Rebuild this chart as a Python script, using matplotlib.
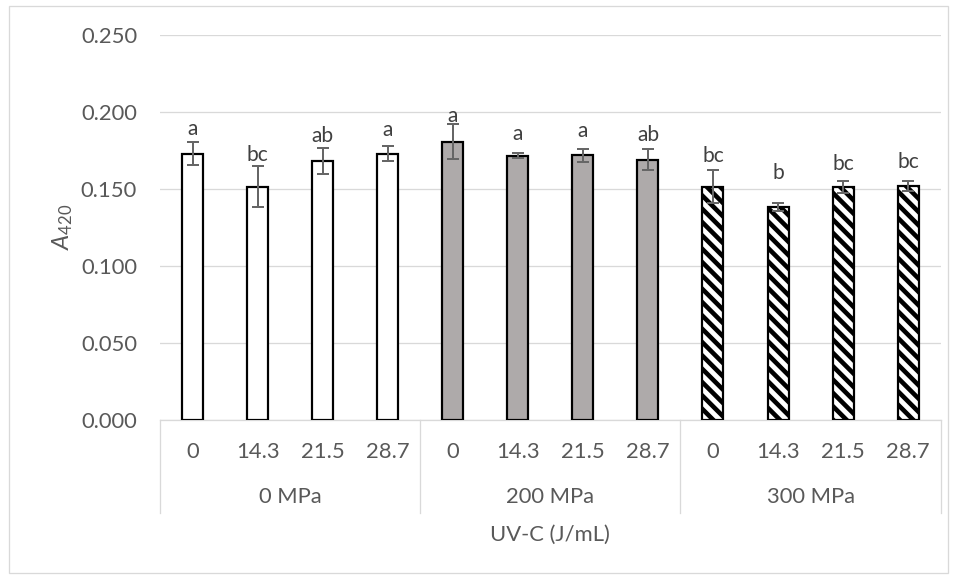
import numpy as np
import matplotlib
matplotlib.use("Agg")
import matplotlib.pyplot as plt
from matplotlib.patches import Rectangle
from matplotlib.lines import Line2D

# ---------------- data ----------------
uvc_doses = ["0", "14.3", "21.5", "28.7"]
pressures = ["0 MPa", "200 MPa", "300 MPa"]
a420_0mpa = [0.1727, 0.1513, 0.1680, 0.1729]
a420_200mpa = [0.1807, 0.1716, 0.1719, 0.1690]
a420_300mpa = [0.1515, 0.1383, 0.1511, 0.1517]
err_0mpa = [0.0075, 0.0132, 0.0084, 0.0051]
err_200mpa = [0.0115, 0.0016, 0.0042, 0.0068]
err_300mpa = [0.0108, 0.0028, 0.0039, 0.0031]
letters_0mpa = ["a", "bc", "ab", "a"]
letters_200mpa = ["a", "a", "a", "ab"]
letters_300mpa = ["bc", "b", "bc", "bc"]
y_ticks = [0.0, 0.05, 0.10, 0.15, 0.20, 0.25]

DPI = 160
W, H = 957, 579
def pt(px):
    return px * 72.0 / DPI

plt.rcParams['font.family'] = ['Lato', 'DejaVu Sans']
plt.rcParams['mathtext.fontset'] = 'custom'
plt.rcParams['mathtext.rm'] = 'Lato'
plt.rcParams['mathtext.it'] = 'Lato:italic'
plt.rcParams['hatch.linewidth'] = pt(4.6)

fig = plt.figure(figsize=(W / DPI, H / DPI), dpi=DPI)
# outer chart border
fig.patches.append(Rectangle((9 / W, 1 - 573 / H), (948 - 9) / W, (573 - 6) / H,
                             transform=fig.transFigure, fill=False,
                             edgecolor='#D9D9D9', linewidth=pt(1.3)))

ax_left, ax_right, ax_top, ax_bot = 160, 940.7, 34.7, 420
ax = fig.add_axes([ax_left / W, 1 - ax_bot / H, (ax_right - ax_left) / W, (ax_bot - ax_top) / H])
ax_h = ax_bot - ax_top

series = [
    (a420_0mpa, err_0mpa, letters_0mpa, dict(color='white', hatch=None)),
    (a420_200mpa, err_200mpa, letters_200mpa, dict(color='#AEAAAA', hatch=None)),
    (a420_300mpa, err_300mpa, letters_300mpa, dict(color='white', hatch='\\\\\\\\')),
]
# gap (px) between error-bar top and letter baseline, per group
label_gaps = [[7, 5, 6, 10], [2, 13, 12, 8], [8, 24, 11, 13]]

bw = 21 / 65.06
for g, (vals, errs, lets, sty) in enumerate(series):
    x = np.arange(len(vals)) + g * len(uvc_doses)
    ax.bar(x, vals, width=bw, color=sty['color'], edgecolor='black',
           linewidth=pt(2.2), hatch=sty['hatch'], zorder=3)
    ax.errorbar(x, vals, yerr=errs, fmt='none', ecolor='#666666',
                elinewidth=pt(2), capsize=pt(6), capthick=pt(2), zorder=4)
    for xi, v, e, l, gp in zip(x, vals, errs, lets, label_gaps[g]):
        ax.annotate(l, (xi, v + e), xytext=(0, pt(gp)), textcoords='offset points',
                    ha='center', va='baseline', fontsize=pt(21), color='#404040', zorder=5)

n = len(uvc_doses) * len(pressures)
ax.set_xlim(-0.5, n - 0.5)
ax.set_ylim(0, 0.25)
ax.set_yticks(y_ticks)
ax.set_yticklabels([f"{v:.3f}" for v in y_ticks])
ax.tick_params(axis='y', length=0, pad=pt(23), labelsize=pt(22), labelcolor='#595959')
ax.set_xticks([])
ax.grid(axis='y', color='#D9D9D9', linewidth=pt(1.3), zorder=0)
ax.set_axisbelow(True)
for s in ['top', 'right', 'left']:
    ax.spines[s].set_visible(False)
ax.spines['bottom'].set_color('#D9D9D9')
ax.spines['bottom'].set_linewidth(pt(1.3))

trans = ax.get_xaxis_transform()
# category labels
for g, p in enumerate(pressures):
    for i, d in enumerate(uvc_doses):
        ax.text(g * len(uvc_doses) + i, -32 / ax_h, d, transform=trans, ha='center', va='center',
                fontsize=pt(22), color='#595959')
    ax.text(g * len(uvc_doses) + (len(uvc_doses) - 1) / 2, -77 / ax_h, p, transform=trans,
            ha='center', va='center', fontsize=pt(22), color='#595959')
for b in range(len(pressures) + 1):
    xb = b * len(uvc_doses) - 0.5
    ax.add_line(Line2D([xb, xb], [0, -92.5 / ax_h], transform=trans, color='#D9D9D9',
                       linewidth=pt(1.3), clip_on=False))

ax.text((n - 1) / 2, -115 / ax_h, "UV-C (J/mL)", transform=trans, ha='center', va='center',
        fontsize=pt(22), color='#595959')

fig.text(63 / W, 1 - 226.5 / H, r'$\mathit{A}_{\mathregular{420}}$',
         rotation=90, ha='center', va='center', fontsize=pt(24), color='#595959')

fig.savefig('out.png', dpi=DPI)
